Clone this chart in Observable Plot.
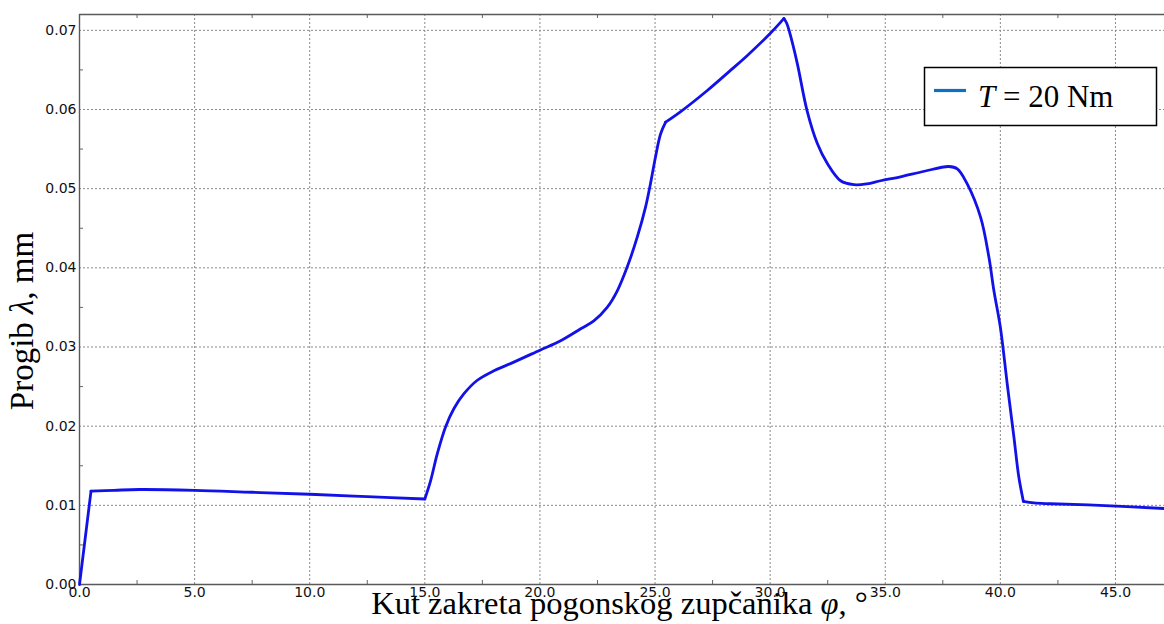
<!DOCTYPE html>
<html>
<head>
<meta charset="utf-8">
<script src="https://cdn.jsdelivr.net/npm/d3@7"></script>
<script src="https://cdn.jsdelivr.net/npm/@observablehq/plot@0.6"></script>
<style>
  html, body { margin: 0; padding: 0; background: #fff; }
  #chart { position: relative; width: 1164px; height: 624px; overflow: hidden; }
</style>
</head>
<body>
<div id="chart"></div>
<script>
// Data
const phi = [0, 0.5, 1.5, 2.6, 5, 7.5, 10, 12.5, 15.0, 15.25, 15.54, 15.9, 16.26, 16.7, 17.28, 18.0, 18.72, 20.0, 20.9,
  21.77, 22.34, 22.92, 23.36, 23.79, 24.23, 24.59, 24.8, 25.02, 25.24, 25.46, 26.1, 27.27, 28.3, 29.0, 30.0, 30.45, 30.6,
  30.72, 30.85, 31.18, 31.6, 32.05, 32.48, 33.06, 33.64, 34.2, 34.8, 35.66, 36.7, 37.76, 38.13, 38.56, 39.14, 39.5, 39.72,
  40.0, 40.3, 40.59, 40.8, 41.0, 41.46, 42.18, 44.3, 47.13];
const lambda = [0, 0.0118, 0.0119, 0.0120, 0.0119, 0.01165, 0.0114, 0.0111, 0.0108, 0.0131, 0.0165, 0.0199, 0.0222, 0.0241, 0.0258, 0.0270, 0.0279, 0.0296, 0.0308,
  0.0323, 0.0333, 0.0350, 0.0371, 0.0401, 0.0439, 0.0477, 0.0506, 0.0540, 0.0569, 0.0584, 0.0597, 0.0624, 0.0650, 0.0668, 0.0696, 0.0710, 0.0715,
  0.0709, 0.0697, 0.0658, 0.0599, 0.0557, 0.0532, 0.0510, 0.0505, 0.0506, 0.0510, 0.0515, 0.0522, 0.0528, 0.0525, 0.0506, 0.0464, 0.0414, 0.0371,
  0.0325, 0.0253, 0.0186, 0.0136, 0.0105, 0.0103, 0.0102, 0.0100, 0.0096];
// points where the curve has a sharp corner
const corners = [0.5, 15.0, 25.46, 30.6, 41.0];

const xTicks = [0, 5, 10, 15, 20, 25, 30, 35, 40, 45];
const xMinor = [2.5, 7.5, 12.5, 17.5, 22.5, 27.5, 32.5, 37.5, 42.5];
const yTicks = [0, 0.01, 0.02, 0.03, 0.04, 0.05, 0.06, 0.07];
const yMinor = [0.005, 0.015, 0.025, 0.035, 0.045, 0.055, 0.065];
const xDomain = [0, 47.13];
const yDomain = [0, 0.072];

const xTitle = "Kut zakreta pogonskog zupčanika ";
const xTitleSym = "φ";
const xTitleEnd = ", °";
const yTitle = "Progib ";
const yTitleSym = "λ";
const yTitleEnd = ", mm";
const legendSym = "T";
const legendRest = " = 20 Nm";

// split into smooth pieces between corners (corner points shared by neighbours)
const bounds = [phi[0], ...corners, phi[phi.length - 1]];
const data = [];
for (let s = 0; s < bounds.length - 1; s++) {
  phi.forEach((p, i) => {
    if (p >= bounds[s] && p <= bounds[s + 1]) data.push({phi: p, lambda: lambda[i], seg: s});
  });
}

const W = 1164, H = 624, mL = 79, mR = 0, mT = 14, mB = 40;
const plotH = H - mT - mB, plotW = W - mL - mR;
const tickLenY = (yDomain[1] - yDomain[0]) * 4 / plotH;
const tickLenX = (xDomain[1] - xDomain[0]) * 4 / plotW;

const grid = {stroke: "#8a8a8a", strokeOpacity: 1, strokeWidth: 1, strokeDasharray: "2,2"};
const axisFont = {fontFamily: "DejaVu Sans, Verdana, sans-serif", fontSize: 14, fill: "#111"};
const frameStroke = {stroke: "#5a5a5a", strokeWidth: 1.4};

const chart = Plot.plot({
  width: W, height: H,
  marginLeft: mL, marginRight: mR, marginTop: mT, marginBottom: mB,
  style: {background: "#fff", overflow: "visible"},
  x: {domain: xDomain, label: null},
  y: {domain: yDomain, label: null},
  marks: [
    Plot.gridX(xTicks, grid),
    Plot.gridY(yTicks, grid),
    Plot.ruleX(xMinor, {y1: yDomain[0], y2: yDomain[0] + tickLenY, stroke: "#666"}),
    Plot.ruleX(xMinor, {y1: yDomain[1], y2: yDomain[1] - tickLenY, stroke: "#666"}),
    Plot.ruleY(yMinor, {x1: xDomain[0], x2: xDomain[0] + tickLenX, stroke: "#666"}),
    Plot.ruleY([yDomain[0], yDomain[1]], frameStroke),
    Plot.ruleX([xDomain[0]], frameStroke),
    Plot.axisX(xTicks, {anchor: "bottom", tickSize: 0, tickPadding: 3, tickFormat: d3.format(".1f"), ...axisFont}),
    Plot.axisY(yTicks, {anchor: "left", tickSize: 0, tickPadding: 3, tickFormat: d3.format(".2f"), ...axisFont}),
    Plot.line(data, {x: "phi", y: "lambda", z: "seg", curve: "catmull-rom", stroke: "#1212e8", strokeWidth: 2.8,
      strokeLinejoin: "round", strokeLinecap: "round"})
  ]
});

document.getElementById("chart").appendChild(chart);

const svg = d3.select(chart);
const serif = "'Liberation Serif', 'Times New Roman', serif";

// x title
const xt = svg.append("text")
  .attr("x", mL + plotW / 2 - 2).attr("y", 614)
  .attr("text-anchor", "middle")
  .attr("font-family", serif).attr("font-size", 32.5).attr("fill", "#000");
xt.append("tspan").text(xTitle);
xt.append("tspan").attr("font-style", "italic").text(xTitleSym);
xt.append("tspan").text(xTitleEnd);

// y title
const yt = svg.append("text")
  .attr("transform", "translate(33,321) rotate(-90)")
  .attr("text-anchor", "middle")
  .attr("font-family", serif).attr("font-size", 33).attr("fill", "#000");
yt.append("tspan").text(yTitle);
yt.append("tspan").attr("font-style", "italic").text(yTitleSym);
yt.append("tspan").text(yTitleEnd);

// legend
const lg = svg.append("g").attr("text-anchor", "start");
lg.append("rect").attr("x", 924.5).attr("y", 67.5).attr("width", 232).attr("height", 58)
  .attr("fill", "#fff").attr("stroke", "#000").attr("stroke-width", 1.5);
lg.append("line").attr("x1", 934).attr("x2", 966).attr("y1", 90.5).attr("y2", 90.5)
  .attr("stroke", "#0f6fc6").attr("stroke-width", 3.2);
const lt = lg.append("text").attr("x", 978).attr("y", 107).attr("text-anchor", "start")
  .attr("font-family", serif).attr("font-size", 31).attr("fill", "#000");
lt.append("tspan").attr("font-style", "italic").text(legendSym);
lt.append("tspan").text(legendRest);
</script>
</body>
</html>
